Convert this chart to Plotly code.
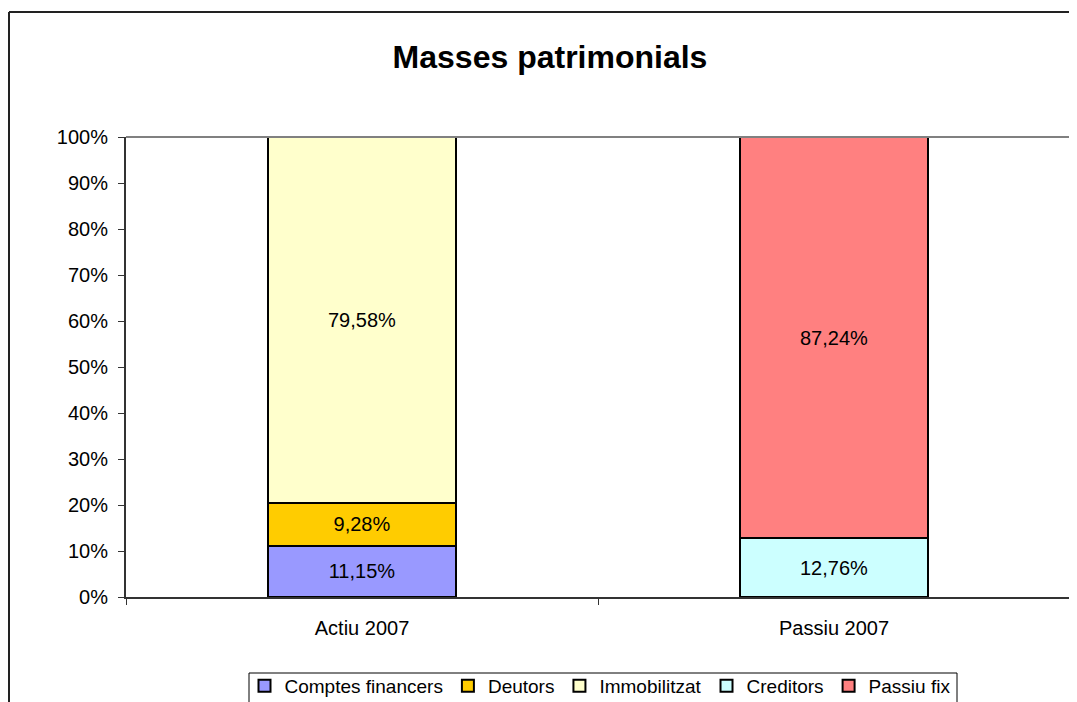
import plotly.graph_objects as go

categories = ["Actiu 2007", "Passiu 2007"]
series_names = ["Comptes financers", "Deutors", "Immobilitzat", "Creditors", "Passiu fix"]
comptes_financers = [11.15, None]
deutors = [9.28, None]
immobilitzat = [79.58, None]
creditors = [None, 12.76]
passiu_fix = [None, 87.24]
colors = ["#9999FF", "#FFCC00", "#FFFFCC", "#CCFFFF", "#FF8080"]
y_ticks = list(range(0, 101, 10))
y_tick_labels = [f"{v}%" for v in y_ticks]

series_values = [comptes_financers, deutors, immobilitzat, creditors, passiu_fix]

FONT = "Arial, Liberation Sans, sans-serif"

fig = go.Figure()
for name, vals, col in zip(series_names, series_values, colors):
    fig.add_trace(go.Bar(
        x=categories, y=vals, name=name, width=0.4,
        marker=dict(color=col, line=dict(color="black", width=2)),
        texttemplate="%{y:.2f}%", textposition="inside", insidetextanchor="middle",
        textfont=dict(family=FONT, size=20, color="black"),
        hoverinfo="skip",
    ))

# page body has an 8px margin, so figure coords = screen coords - 8
OFF = 8
L, R, T, B = 126 - OFF, 1070 - OFF, 137 - OFF, 597 - OFF
FW, FH = 1077, 702
W, H = R - L, B - T

def px(x):
    return (x - OFF - L) / W

def py(y):
    return (B - (y - OFF)) / H

fig.update_layout(
    width=FW, height=FH,
    barmode="stack",
    separators=",.",
    paper_bgcolor="white", plot_bgcolor="white",
    margin=dict(l=L, r=FW - R, t=T, b=FH - B, autoexpand=False),
    font=dict(family=FONT, size=19, color="black"),
    title=dict(text="<b>Masses patrimonials</b>", x=(550 - OFF) / FW, xref="container", xanchor="center",
               y=1 - (57 - OFF) / FH, yref="container", yanchor="middle", font=dict(size=32)),
    showlegend=True,
    legend=dict(orientation="h", x=px(600), xanchor="center",
                y=py(667), yanchor="top", traceorder="normal",
                borderwidth=0, bgcolor="rgba(0,0,0,0)",
                font=dict(size=19), itemwidth=30, tracegroupgap=0),
    xaxis=dict(showline=True, linecolor="#333333", linewidth=2, ticks="outside",
               tickson="boundaries", ticklen=6, tickcolor="#333333", tickwidth=1,
               showgrid=False, tickfont=dict(size=20), ticklabelstandoff=12, fixedrange=True),
    yaxis=dict(range=[0, 100], tickvals=y_ticks, ticktext=y_tick_labels, showline=True,
               linecolor="#333333", linewidth=2, ticks="outside", ticklen=6,
               tickcolor="#333333", showgrid=False, zeroline=False,
               tickfont=dict(size=20), ticklabelstandoff=6, fixedrange=True),
    shapes=[
        dict(type="line", xref="paper", yref="paper", x0=0, x1=1, y0=1, y1=1,
             line=dict(color="#808080", width=2)),
        dict(type="line", xref="paper", yref="paper", x0=1, x1=1, y0=0, y1=1,
             line=dict(color="#808080", width=2)),
        dict(type="line", xref="paper", yref="paper", x0=px(9), x1=px(9), y0=py(12), y1=py(720),
             line=dict(color="#222222", width=2)),
        dict(type="line", xref="paper", yref="paper", x0=px(9), x1=px(1100), y0=py(12), y1=py(12),
             line=dict(color="#222222", width=2)),
        dict(type="rect", xref="paper", yref="paper", x0=px(249), x1=px(957), y0=py(673), y1=py(712),
             line=dict(color="black", width=1), fillcolor="rgba(0,0,0,0)", layer="above"),
    ],
)

fig.write_html("out.html")
